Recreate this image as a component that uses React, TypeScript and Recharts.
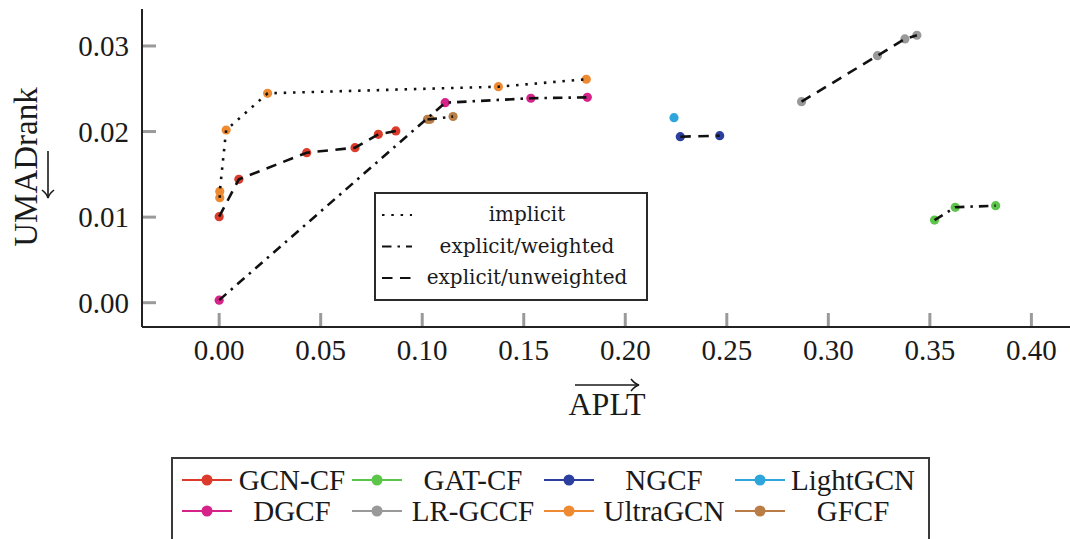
import React from 'react';
import { ScatterChart, Scatter, XAxis, YAxis } from 'recharts';

type Pt = { x: number; y: number };

// ---- data (x = APLT, y = UMADrank) ----
const gcnCf: Pt[] = [
  { x: 0.0, y: 0.01005 },
  { x: 0.0097, y: 0.01442 },
  { x: 0.0431, y: 0.01753 },
  { x: 0.0669, y: 0.01811 },
  { x: 0.0784, y: 0.01968 },
  { x: 0.087, y: 0.02007 },
];
const gatCf: Pt[] = [
  { x: 0.3523, y: 0.00966 },
  { x: 0.3625, y: 0.01115 },
  { x: 0.3824, y: 0.01134 },
];
const ngcf: Pt[] = [
  { x: 0.2271, y: 0.0194 },
  { x: 0.2465, y: 0.01952 },
];
const lightGcn: Pt[] = [{ x: 0.224, y: 0.02162 }];
const dgcf: Pt[] = [
  { x: 0.0, y: 0.0003 },
  { x: 0.1113, y: 0.02337 },
  { x: 0.1535, y: 0.02389 },
  { x: 0.1813, y: 0.024 },
];
const lrGccf: Pt[] = [
  { x: 0.2868, y: 0.02349 },
  { x: 0.3242, y: 0.02887 },
  { x: 0.3377, y: 0.03082 },
  { x: 0.3436, y: 0.03125 },
];
const ultraGcn: Pt[] = [
  { x: 0.0003, y: 0.01227 },
  { x: 0.0003, y: 0.013 },
  { x: 0.00345, y: 0.02018 },
  { x: 0.02386, y: 0.02447 },
  { x: 0.1375, y: 0.02524 },
  { x: 0.1808, y: 0.02611 },
];
const gfcf: Pt[] = [
  { x: 0.1026, y: 0.02143 },
  { x: 0.1039, y: 0.02143 },
  { x: 0.1152, y: 0.02176 },
];

const xTicks = [0, 0.05, 0.1, 0.15, 0.2, 0.25, 0.3, 0.35, 0.4];
const yTicks = [0, 0.01, 0.02, 0.03];
const xDomain: [number, number] = [-0.038, 0.42];
const yDomain: [number, number] = [-0.00284, 0.03432];

const styleNames = ['implicit', 'explicit/weighted', 'explicit/unweighted'];
const styleDash: Record<string, string> = {
  implicit: '2.5 6.8',
  'explicit/weighted': '9.5 6 2.5 6',
  'explicit/unweighted': '10.5 7.5',
};

const seriesList = [
  { name: 'GCN-CF', color: '#dc3b2b', data: gcnCf, style: 'explicit/unweighted' },
  { name: 'GAT-CF', color: '#5cc64a', data: gatCf, style: 'explicit/weighted' },
  { name: 'NGCF', color: '#2c3f9f', data: ngcf, style: 'explicit/unweighted' },
  { name: 'LightGCN', color: '#2ea6dc', data: lightGcn, style: '' },
  { name: 'DGCF', color: '#d6238a', data: dgcf, style: 'explicit/weighted' },
  { name: 'LR-GCCF', color: '#999999', data: lrGccf, style: 'explicit/unweighted' },
  { name: 'UltraGCN', color: '#ee8a32', data: ultraGcn, style: 'implicit' },
  { name: 'GFCF', color: '#b97d45', data: gfcf, style: 'explicit/weighted' },
];

const SERIF = '"Liberation Serif", "Times New Roman", serif';

const XTick = (props: any) => {
  const { x, y, payload } = props;
  return (
    <g>
      <line x1={x} y1={y - 1} x2={x} y2={y - 14} stroke="#9a9a9a" strokeWidth={3} />
      <text x={x} y={y + 33} textAnchor="middle" fontFamily={SERIF} fontSize={29} fill="#1a1a1a">
        {Number(payload.value).toFixed(2)}
      </text>
    </g>
  );
};

const YTick = (props: any) => {
  const { x, y, payload } = props;
  return (
    <g>
      <line x1={x + 1} y1={y} x2={x + 14} y2={y} stroke="#9a9a9a" strokeWidth={3} />
      <text x={x - 13} y={y + 10} textAnchor="end" fontFamily={SERIF} fontSize={29} fill="#1a1a1a">
        {Number(payload.value).toFixed(2)}
      </text>
    </g>
  );
};

const XTitle = (props: any) => {
  const vb = props.viewBox || { x: 142, y: 327, width: 930, height: 212 };
  const cx = vb.x + vb.width / 2;
  const ay = vb.y + 58;
  return (
    <g>
      <text x={cx} y={vb.y + 88} textAnchor="middle" fontFamily={SERIF} fontSize={32} fill="#1a1a1a">
        APLT
      </text>
      <line x1={cx - 32} y1={ay} x2={cx + 31} y2={ay} stroke="#1a1a1a" strokeWidth={1.6} />
      <path d={`M ${cx + 24} ${ay - 6} Q ${cx + 28} ${ay - 1} ${cx + 32} ${ay} Q ${cx + 28} ${ay + 1} ${cx + 24} ${ay + 6}`} fill="none" stroke="#1a1a1a" strokeWidth={1.6} />
    </g>
  );
};

const YTitle = (props: any) => {
  const vb = props.viewBox || { x: 0, y: 9, width: 142, height: 318 };
  const cy = vb.y + vb.height / 2 - 1;
  const tx = vb.x + 37;
  const ax = vb.x + 48;
  return (
    <g>
      <text
        x={tx}
        y={cy}
        transform={`rotate(-90, ${tx}, ${cy})`}
        textAnchor="middle"
        fontFamily={SERIF}
        fontSize={33}
        fill="#1a1a1a"
      >
        UMADrank
      </text>
      <line x1={ax} y1={cy - 16} x2={ax} y2={cy + 30} stroke="#1a1a1a" strokeWidth={1.6} />
      <path d={`M ${ax - 6} ${cy + 23} Q ${ax - 1} ${cy + 27} ${ax} ${cy + 31} Q ${ax + 1} ${cy + 27} ${ax + 6} ${cy + 23}`} fill="none" stroke="#1a1a1a" strokeWidth={1.6} />
    </g>
  );
};

const legendColTextX = [121, 302, 493, 682];
const legendColLineX = [11, 181, 373, 564];
const legendRowY = [23, 54];

export default function App() {
  return (
    <div style={{ position: 'absolute', left: 0, top: 0, width: 1070, height: 539, overflow: 'hidden', background: '#fff' }}>
      <ScatterChart width={1072} height={539} margin={{ top: 9, right: 0, bottom: 0, left: 0 }}>
        <XAxis
          dataKey="x"
          type="number"
          domain={xDomain}
          allowDataOverflow
          ticks={xTicks}
          interval={0}
          height={212}
          tickSize={0}
          tickMargin={0}
          tick={<XTick />}
          tickLine={false}
          axisLine={{ stroke: '#222', strokeWidth: 2 }}
          label={<XTitle />}
        />
        <XAxis
          xAxisId="top"
          orientation="top"
          type="number"
          domain={xDomain}
          allowDataOverflow
          height={0}
          tick={false}
          tickLine={false}
          axisLine={{ stroke: '#444', strokeWidth: 2.5 }}
        />
        <YAxis
          dataKey="y"
          type="number"
          domain={yDomain}
          allowDataOverflow
          ticks={yTicks}
          interval={0}
          width={142}
          tickSize={0}
          tickMargin={0}
          tick={<YTick />}
          tickLine={false}
          axisLine={{ stroke: '#222', strokeWidth: 2 }}
          label={<YTitle />}
        />
        {seriesList.map((s) => (
          <Scatter
            key={'m-' + s.name}
            name={s.name}
            data={s.data}
            fill={s.color}
            isAnimationActive={false}
            shape={(p: any) => <circle cx={p.cx} cy={p.cy} r={4.6} fill={s.color} />}
          />
        ))}
        {seriesList
          .filter((s) => s.style && s.data.length > 1)
          .map((s) => (
            <Scatter
              key={'l-' + s.name}
              name={s.name + ' line'}
              data={s.data}
              fill="#111"
              isAnimationActive={false}
              line={{ stroke: '#111', strokeWidth: 2.6, strokeDasharray: styleDash[s.style], strokeLinecap: 'butt' }}
              lineType="joint"
              shape={() => <g />}
              legendType="none"
            />
          ))}
      </ScatterChart>

      {/* line-style legend inside the plot */}
      <svg style={{ position: 'absolute', left: 374, top: 192 }} width={275} height={110}>
        <rect x={1} y={1} width={272} height={107} fill="#fff" stroke="#2a2a2a" strokeWidth={2} />
        {styleNames.map((n, i) => {
          const y = 23 + i * 31.5;
          return (
            <g key={n}>
              <line x1={8} y1={y} x2={38} y2={y} stroke="#111" strokeWidth={2.2} strokeDasharray={styleDash[n]} />
              <text x={153} y={y + 6} textAnchor="middle" fontFamily='"DejaVu Serif", serif' fontSize={20} fill="#1a1a1a">
                {n}
              </text>
            </g>
          );
        })}
      </svg>

      {/* method legend */}
      <svg style={{ position: 'absolute', left: 171, top: 457 }} width={760} height={100}>
        <rect x={1} y={1} width={757} height={110} fill="#fff" stroke="#3a3a3a" strokeWidth={2} />
        {seriesList.map((s, i) => {
          const row = Math.floor(i / 4);
          const col = i % 4;
          const y = legendRowY[row];
          const lx = legendColLineX[col];
          return (
            <g key={s.name}>
              <line x1={lx} y1={y} x2={lx + 50} y2={y} stroke={s.color} strokeWidth={2} />
              <circle cx={lx + 25} cy={y} r={5.5} fill={s.color} />
              <text x={legendColTextX[col]} y={y + 10} textAnchor="middle" fontFamily={SERIF} fontSize={29} fill="#1a1a1a">
                {s.name}
              </text>
            </g>
          );
        })}
      </svg>
    </div>
  );
}
